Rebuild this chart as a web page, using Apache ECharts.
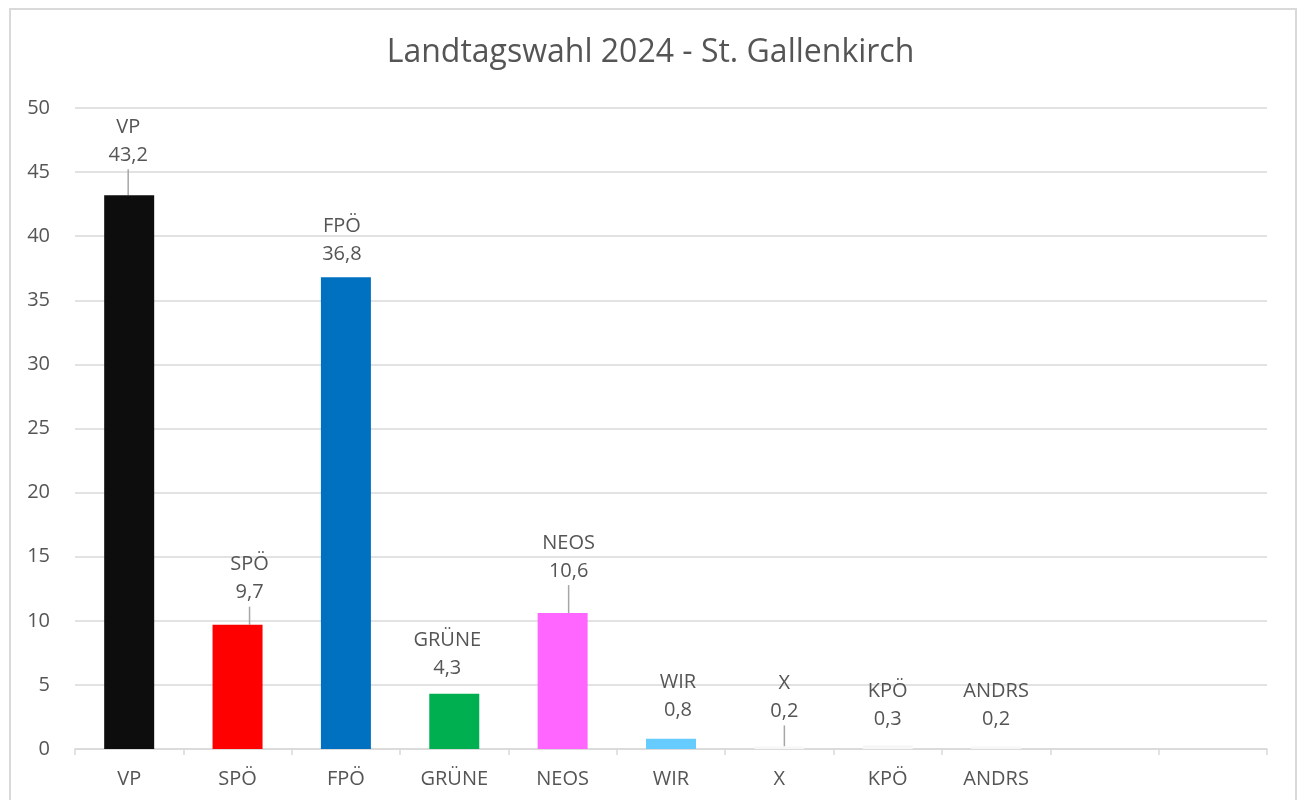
<!DOCTYPE html>
<html>
<head>
<meta charset="utf-8">
<script src="https://cdn.jsdelivr.net/npm/echarts@6/dist/echarts.min.js"></script>
<style>
  html, body { margin: 0; padding: 0; background: #fff; }
  #chart { width: 1301px; height: 800px; }
</style>
</head>
<body>
<div id="chart"></div>
<script>
// Daten
var parteien = ['VP', 'SPÖ', 'FPÖ', 'GRÜNE', 'NEOS', 'WIR', 'X', 'KPÖ', 'ANDRS', '', ''];
var prozent = [43.2, 9.7, 36.8, 4.3, 10.6, 0.8, 0.2, 0.3, 0.2, null, null];
var farben = ['#0d0d0d', '#ff0000', '#0070c0', '#00b050', '#ff66ff', '#66ccff', '#f7f7f7', '#f7f7f7', '#f7f7f7', '#ffffff', '#ffffff'];
var yTicks = [0, 5, 10, 15, 20, 25, 30, 35, 40, 45, 50];

// Verschiebung der Beschriftungen (wie im Original manuell verschoben)
var labelDx = [-1, 12, -4, -7, 6, 7, 5, 0, 0];
var labelDy = [-21, -13, -4, -7, -23, -9, -16, -7, -8];
var mitLinie = [true, true, false, false, true, false, true, false, false];

var textFarbe = '#555555';
var gridFarbe = '#d9d9d9';
var schrift = '"Open Sans", Lato, sans-serif';

var chart = echarts.init(document.getElementById('chart'));

var daten = prozent.map(function (v, i) {
  return {
    value: v,
    itemStyle: { color: farben[i] },
    labelLine: { show: !!mitLinie[i] }
  };
});

chart.setOption({
  animation: false,
  textStyle: { fontFamily: schrift },
  graphic: [{
    type: 'rect',
    silent: true,
    z: -10,
    shape: { x: 10, y: 9, width: 1286, height: 820 },
    style: { fill: 'none', stroke: gridFarbe, lineWidth: 2 }
  }],
  title: {
    text: 'Landtagswahl 2024 - St. Gallenkirch',
    left: 'center',
    top: 32,
    textStyle: { fontSize: 32, fontWeight: 'normal', color: textFarbe, fontFamily: schrift }
  },
  grid: { left: 75, right: 34, top: 108, bottom: 51, containLabel: false },
  xAxis: {
    type: 'category',
    data: parteien,
    axisLine: { lineStyle: { color: gridFarbe, width: 1.5 } },
    axisTick: { show: true, length: 6, lineStyle: { color: gridFarbe, width: 1.5 } },
    axisLabel: { color: textFarbe, fontSize: 20, margin: 20, fontFamily: schrift }
  },
  yAxis: {
    type: 'value',
    min: yTicks[0],
    max: yTicks[yTicks.length - 1],
    interval: 5,
    axisLine: { show: false },
    axisTick: { show: false },
    splitLine: { lineStyle: { color: gridFarbe, width: 1.5 } },
    axisLabel: { color: textFarbe, fontSize: 20, margin: 25, fontFamily: schrift }
  },
  series: [{
    type: 'bar',
    data: daten,
    barWidth: 50,
    label: {
      show: true,
      position: 'top',
      distance: 5,
      color: textFarbe,
      fontSize: 20,
      lineHeight: 28,
      fontFamily: schrift,
      formatter: function (p) {
        if (p.value == null) return '';
        return parteien[p.dataIndex] + '\n' + String(p.value).replace('.', ',');
      }
    },
    labelLine: {
      show: true,
      smooth: false,
      lineStyle: { color: '#a6a6a6', width: 1.5 }
    },
    labelLayout: function (p) {
      var i = p.dataIndex;
      return { dx: labelDx[i] || 0, dy: labelDy[i] || 0 };
    }
  }]
});
</script>
</body>
</html>
